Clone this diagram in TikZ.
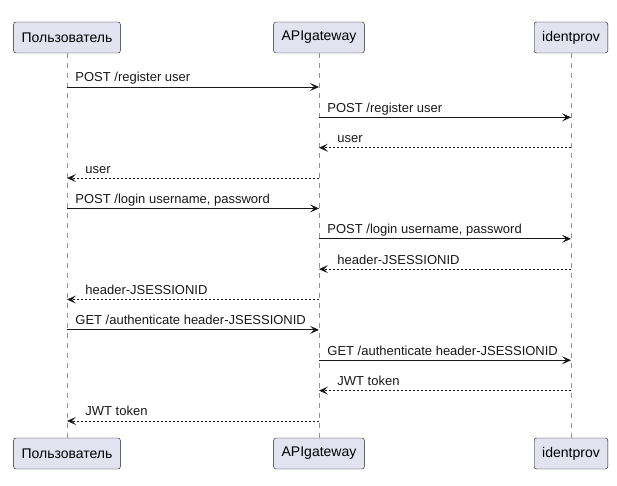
\documentclass[tikz,border=0pt]{standalone}
\usepackage{fontspec}
\setmainfont{Liberation Sans}
\usetikzlibrary{arrows.meta}

\definecolor{linecol}{HTML}{181818}
\definecolor{boxfill}{HTML}{E2E2F0}

\tikzset{
	participant/.style={draw=linecol, fill=boxfill, rounded corners=2.5pt, minimum height=31pt, inner xsep=8pt, font=\fontsize{14}{16}\selectfont},
	lifeline/.style={draw=gray!85, line width=0.8pt, dash pattern=on 5pt off 5pt},
	call/.style={->, draw=linecol, line width=0.8pt},
	reply/.style={->, draw=linecol, line width=0.8pt, dash pattern=on 2pt off 2pt},
	msgtext/.style={anchor=base west, inner sep=0pt, font=\fontsize{13}{15}\selectfont, text=linecol}
}

\begin{document}
\begin{tikzpicture}[x=1pt, y=-1pt, >={Stealth[length=9pt, width=8pt, inset=4pt]}]
	\useasboundingbox (0,0) rectangle (617,486);
	
	% --- 1. SETUP ---
	\def\xU{67}
	\def\xG{319}
	\def\xI{571}
	\def\dy{30.36}
	
	% --- 2. PARTICIPANTS ---
	\node[participant] (userT) at (\xU, 37.5) {Пользователь};
	\node[participant] (gwT)   at (\xG, 37.5) {APIgateway};
	\node[participant] (idpT)  at (\xI, 37.5) {identprov};
	
	\node[participant] (userB) at (\xU, 453.5) {Пользователь};
	\node[participant] (gwB)   at (\xG, 453.5) {APIgateway};
	\node[participant] (idpB)  at (\xI, 453.5) {identprov};
	
	% Lifelines
	\draw[lifeline] (userT) -- (userB);
	\draw[lifeline] (gwT) -- (gwB);
	\draw[lifeline] (idpT) -- (idpB);
	
	% --- 3. MESSAGE POINTS ON THE LIFELINES ---
	\foreach \i in {1,...,12} {
		\coordinate (u\i) at (\xU, {87+(\i-1)*\dy});
		\coordinate (g\i) at (\xG, {87+(\i-1)*\dy});
		\coordinate (p\i) at (\xI, {87+(\i-1)*\dy});
	}
	
	% --- 4. REGISTER ---
	\draw[call] (u1) -- (g1) node[pos=0, msgtext, xshift=8pt, yshift=5pt] {POST /register user};
	\draw[call] (g2) -- (p2) node[pos=0, msgtext, xshift=8pt, yshift=5pt] {POST /register user};
	\draw[reply] (p3) -- (g3) node[pos=1, msgtext, xshift=18pt, yshift=5pt] {user};
	\draw[reply] (g4) -- (u4) node[pos=1, msgtext, xshift=18pt, yshift=5pt] {user};
	
	% --- 5. LOGIN ---
	\draw[call] (u5) -- (g5) node[pos=0, msgtext, xshift=8pt, yshift=5pt] {POST /login username, password};
	\draw[call] (g6) -- (p6) node[pos=0, msgtext, xshift=8pt, yshift=5pt] {POST /login username, password};
	\draw[reply] (p7) -- (g7) node[pos=1, msgtext, xshift=18pt, yshift=5pt] {header-JSESSIONID};
	\draw[reply] (g8) -- (u8) node[pos=1, msgtext, xshift=18pt, yshift=5pt] {header-JSESSIONID};
	
	% --- 6. AUTHENTICATE ---
	\draw[call] (u9) -- (g9) node[pos=0, msgtext, xshift=8pt, yshift=5pt] {GET /authenticate header-JSESSIONID};
	\draw[call] (g10) -- (p10) node[pos=0, msgtext, xshift=8pt, yshift=5pt] {GET /authenticate header-JSESSIONID};
	\draw[reply] (p11) -- (g11) node[pos=1, msgtext, xshift=18pt, yshift=5pt] {JWT token};
	\draw[reply] (g12) -- (u12) node[pos=1, msgtext, xshift=18pt, yshift=5pt] {JWT token};
	
\end{tikzpicture}
\end{document}
